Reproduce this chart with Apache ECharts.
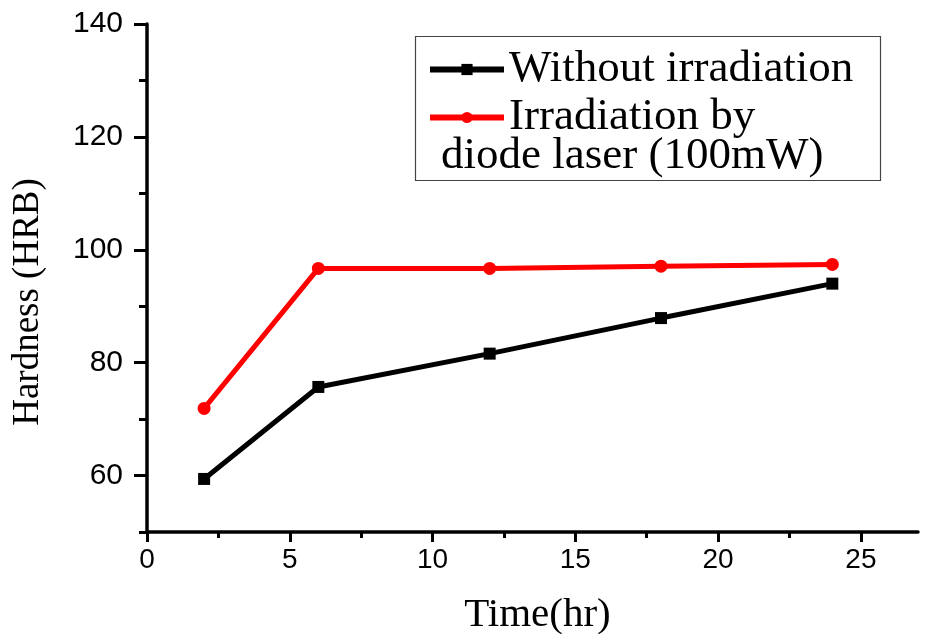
<!DOCTYPE html>
<html>
<head>
<meta charset="utf-8">
<script src="https://cdn.jsdelivr.net/npm/echarts@6/dist/echarts.min.js"></script>
<style>
  html, body { margin: 0; padding: 0; background: #fff; }
  #chart { width: 925px; height: 634px; }
</style>
</head>
<body>
<div id="chart"></div>
<script>
// time points (hr)
var times = [2, 6, 12, 18, 24];
// hardness values
var withoutIrr = [59.4, 75.7, 81.6, 87.9, 94.0];
var withLaser = [71.9, 96.7, 96.7, 97.1, 97.4];
var seriesNames = ['Without irradiation', 'Irradiation by'];
// tick labels
var xMajor = [0, 5, 10, 15, 20, 25];
var xMinor = [2.5, 7.5, 12.5, 17.5, 22.5];
var yMajor = [60, 80, 100, 120, 140];
var yMinor = [50, 70, 90, 110, 130];

function pairs(xs, ys) {
    var out = [];
    for (var i = 0; i < xs.length; i++) out.push([xs[i], ys[i]]);
    return out;
}

var serif = '"Liberation Serif", "Times New Roman", serif';
var sans = '"Liberation Sans", Arial, sans-serif';

var myChart = echarts.init(document.getElementById('chart'));
var option = {
    backgroundColor: '#fff',
    animation: false,
    grid: { left: 147, top: 24, right: 7, bottom: 102, outerBoundsMode: 'none', containLabel: false },
    xAxis: [{
        type: 'value',
        min: 0,
        max: 27,
        name: 'Time(hr)',
        nameLocation: 'middle',
        nameGap: 63,
        nameTextStyle: { fontFamily: serif, fontSize: 41, color: '#000', padding: [0, 0, 0, 10] },
        axisLine: { lineStyle: { color: '#000', width: 3.5 } },
        axisTick: { show: true, customValues: xMajor, length: 10, lineStyle: { color: '#000', width: 3 } },
        axisLabel: { customValues: xMajor, fontFamily: sans, fontSize: 28, color: '#000', margin: 14 },
        splitLine: { show: false }
    }, {
        type: 'value',
        min: 0,
        max: 27,
        position: 'bottom',
        axisLine: { show: false },
        axisTick: { show: true, customValues: xMinor, length: 6, lineStyle: { color: '#000', width: 3 } },
        axisLabel: { show: false },
        splitLine: { show: false }
    }],
    yAxis: [{
        type: 'value',
        min: 50,
        max: 140,
        name: 'Hardness (HRB)',
        nameLocation: 'middle',
        nameGap: 100,
        nameTextStyle: { fontFamily: serif, fontSize: 37, color: '#000', padding: [0, 48, 0, 0] },
        axisLine: { show: true, lineStyle: { color: '#000', width: 3.5 } },
        axisTick: { show: true, customValues: yMajor, length: 13, lineStyle: { color: '#000', width: 3 } },
        axisLabel: { customValues: yMajor, fontFamily: sans, fontSize: 30, color: '#000', margin: 24 },
        splitLine: { show: false }
    }, {
        type: 'value',
        min: 50,
        max: 140,
        position: 'left',
        axisLine: { show: false },
        axisTick: { show: true, customValues: yMinor, length: 8, lineStyle: { color: '#000', width: 3 } },
        axisLabel: { show: false },
        splitLine: { show: false }
    }],
    legend: {
        orient: 'vertical',
        left: 422,
        top: 42,
        itemWidth: 74,
        itemHeight: 14,
        itemGap: 3,
        data: seriesNames,
        lineStyle: { width: 6 },
        textStyle: { fontFamily: serif, fontSize: 45, color: '#000' }
    },
    graphic: [{
        type: 'rect',
        left: 413,
        top: 34,
        shape: { width: 465, height: 144 },
        style: { fill: 'none', stroke: '#444', lineWidth: 1.2 }
    }, {
        type: 'text',
        left: 441,
        top: 134,
        style: { text: 'diode laser (100mW)', font: '45px ' + serif, fill: '#000' }
    }],
    series: [{
        name: seriesNames[0],
        type: 'line',
        data: pairs(times, withoutIrr),
        symbol: 'rect',
        symbolSize: 12,
        itemStyle: { color: '#000' },
        lineStyle: { color: '#000', width: 5 }
    }, {
        name: seriesNames[1],
        type: 'line',
        data: pairs(times, withLaser),
        symbol: 'circle',
        symbolSize: 13,
        itemStyle: { color: '#ff0000' },
        lineStyle: { color: '#ff0000', width: 5 }
    }]
};
myChart.setOption(option);
</script>
</body>
</html>
